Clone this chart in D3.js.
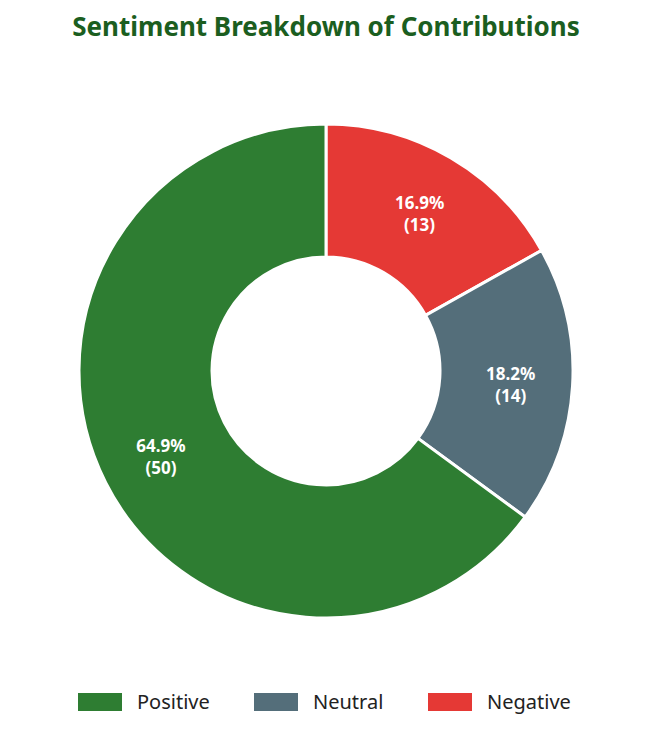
<!DOCTYPE html>
<html><head><meta charset="utf-8">
<script src="https://cdn.jsdelivr.net/npm/d3@7"></script>
<style>body{margin:0;background:#fff;font-family:"Noto Sans","Open Sans",sans-serif;}</style>
</head><body><svg id="c" width="653" height="738"></svg>
<script>
const categories = ["Negative","Neutral","Positive"];
const values = [13,14,50];
const colors = ["#e53935","#546e7a","#2e7d32"];
const legendOrder = ["Positive","Neutral","Negative"];

const svg = d3.select("#c");
svg.append("text").attr("x",326).attr("y",36).attr("text-anchor","middle")
  .attr("font-size",26).attr("font-weight","bold").attr("fill","#1b5e20")
  .text("Sentiment Breakdown of Contributions");
const total = d3.sum(values);
const data = categories.map((c,i)=>({c,v:values[i],col:colors[i]}));
const pie = d3.pie().value(d=>d.v).sort(null);
const arc = d3.arc().innerRadius(114).outerRadius(247);
const lab = d3.arc().innerRadius(185).outerRadius(185);
const g = svg.append("g").attr("transform","translate(326,371)");
const arcs = pie(data);
g.selectAll("path").data(arcs).join("path").attr("d",arc)
  .attr("fill",d=>d.data.col).attr("stroke","#fff").attr("stroke-width",3);
const t = g.selectAll("text").data(arcs).join("text")
  .attr("transform",d=>`translate(${lab.centroid(d)})`)
  .attr("text-anchor","middle").attr("fill","#fff").attr("font-weight","bold").attr("font-size",17);
t.append("tspan").attr("x",0).attr("dy","-0.15em").text(d=>(d.data.v/total*100).toFixed(1)+"%");
t.append("tspan").attr("x",0).attr("dy","1.3em").text(d=>"("+d.data.v+")");
const lx=[78,254,428];
const lg = svg.append("g");
legendOrder.forEach((c,i)=>{
  const col = colors[categories.indexOf(c)];
  lg.append("rect").attr("x",lx[i]).attr("y",693).attr("width",44).attr("height",18).attr("fill",col);
  lg.append("text").attr("x",lx[i]+59).attr("y",709).attr("font-size",20).attr("fill","#222").text(c);
});
</script></body></html>
